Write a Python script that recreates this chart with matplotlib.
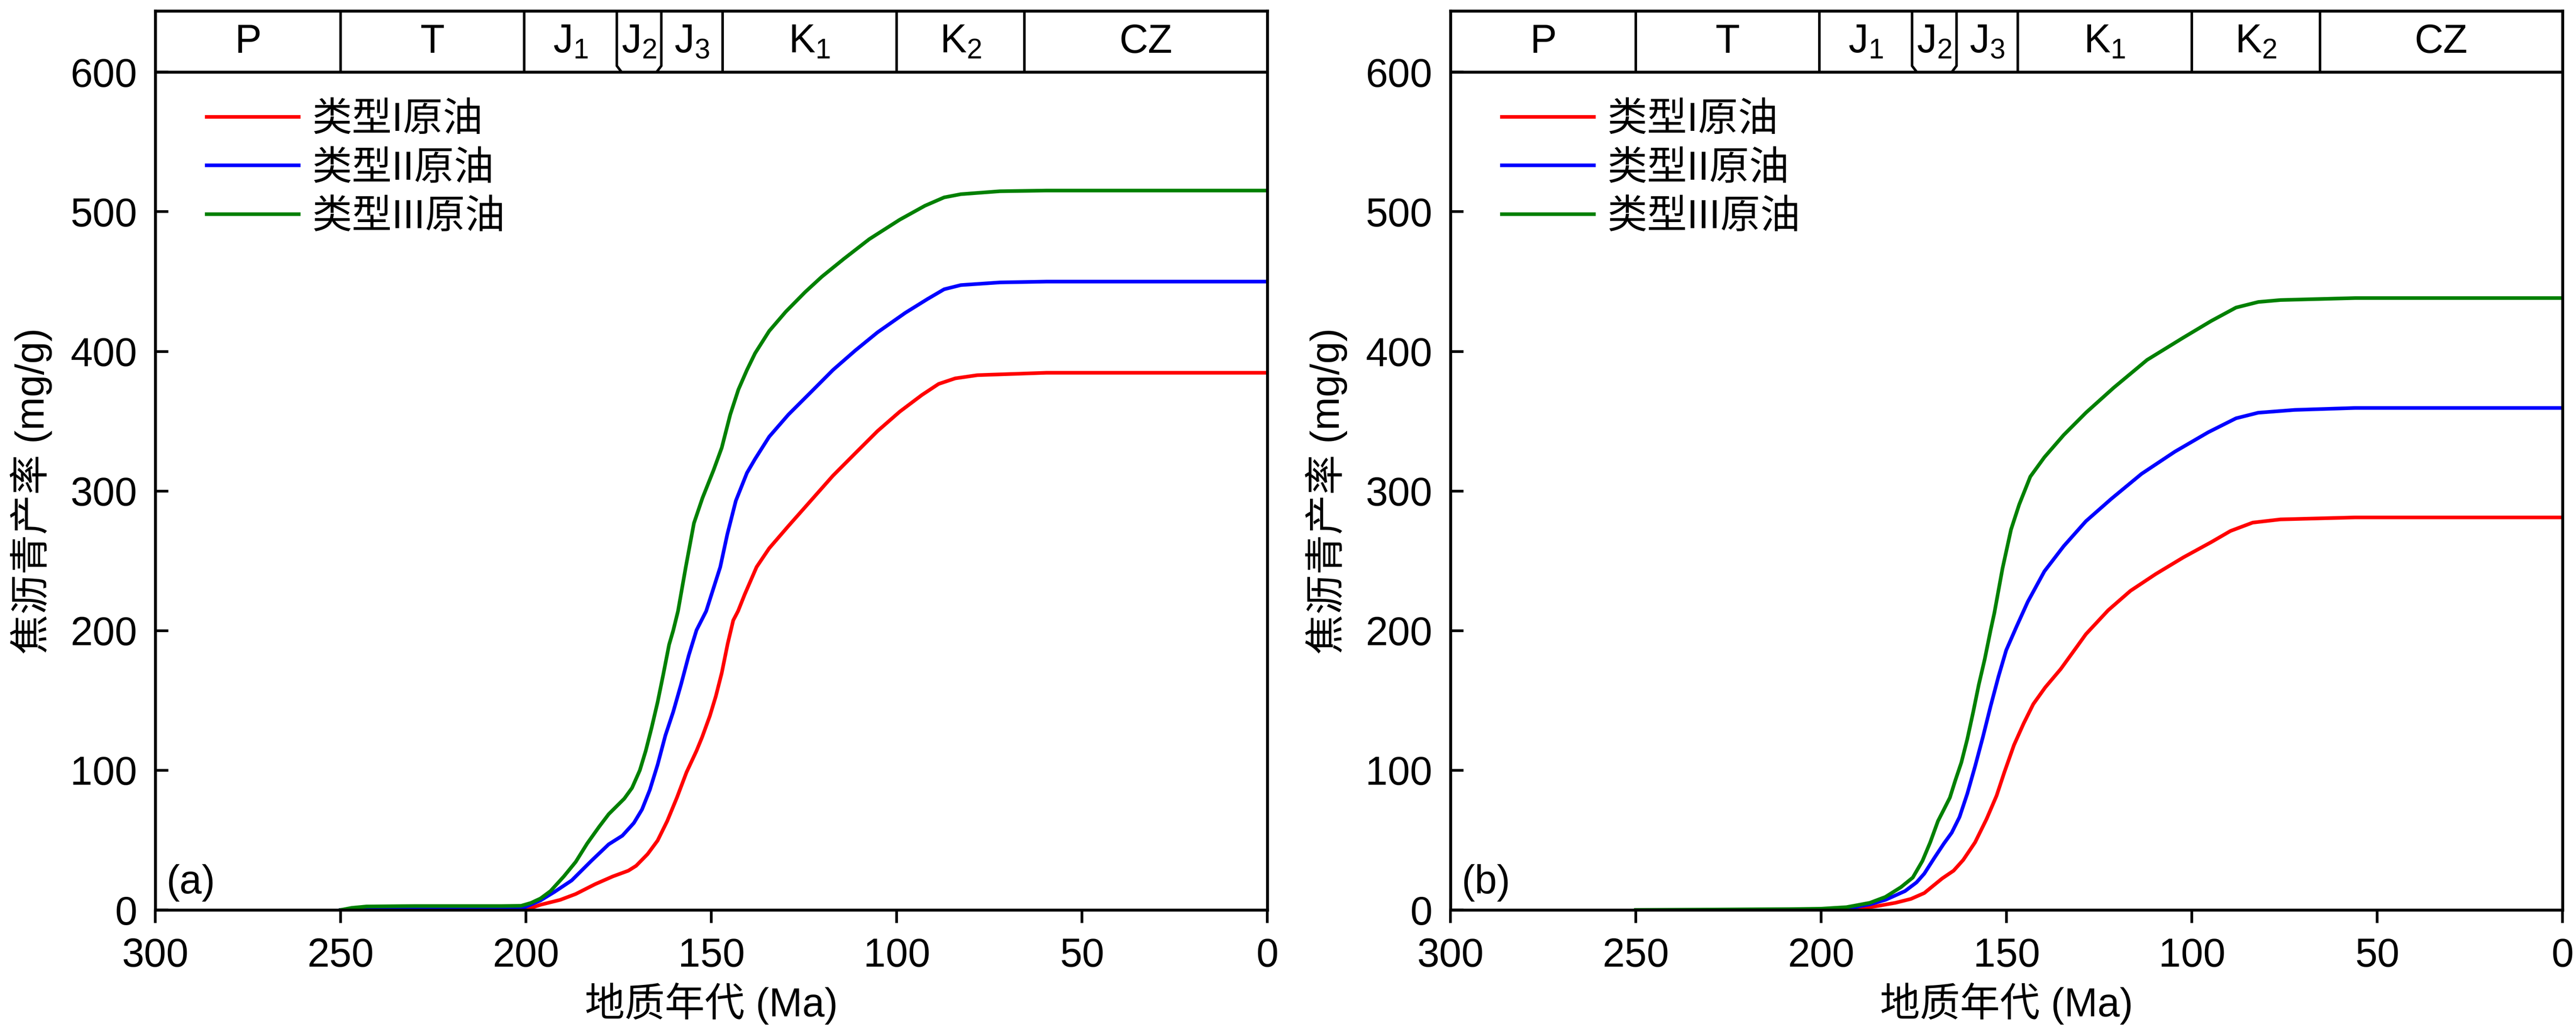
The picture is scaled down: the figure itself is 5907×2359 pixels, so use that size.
import numpy as np
import matplotlib.pyplot as plt

plt.rcParams['font.family'] = ['Liberation Sans', 'Noto Sans CJK SC']
plt.rcParams['mathtext.fontset'] = 'custom'
plt.rcParams['mathtext.rm'] = 'Liberation Sans'
plt.rcParams['font.size'] = 22

# geologic periods (Ma)
period_names = ['P', 'T', r'$\mathrm{J_1}$', r'$\mathrm{J_2}$', r'$\mathrm{J_3}$',
                r'$\mathrm{K_1}$', r'$\mathrm{K_2}$', 'CZ']
period_bounds = [300, 250, 200.5, 175.5, 163.5, 147, 100, 65.5, 0]

labels = ['类型I原油', '类型II原油', '类型III原油']
colors = ['red', 'blue', 'green']

# panel (a)
a_red_age = [250, 230, 200, 196.1, 190.8, 186.6, 181.4, 176.6, 172.4, 170.3, 167.2, 164.5,
             161.9, 159.3, 156.7, 154, 152.5, 150.4, 148.8, 147.2, 145.6, 144.1, 142.8, 141,
             137.8, 134.4, 129.2, 123.2, 117.2, 111.2, 105.2, 99.2, 93.2, 88.7, 84.2, 78.2,
             59.6, 0]
a_red = [0, 0, 0.2, 3.7, 7.2, 11.4, 18.4, 24, 28.1, 31.6, 40, 49.7,
         63.7, 80.4, 98.6, 114, 123.7, 139, 153, 169.7, 190.6, 207.4, 214, 226,
         245.6, 259, 275, 293, 311, 327, 342.9, 356.8, 368.8, 376.7, 380.7, 383,
         384.7, 384.7]
a_blue_age = [250, 230, 206, 201.3, 196.1, 192.4, 187.7, 182.4, 177.7, 174, 170.9, 168.7,
              166.6, 164.5, 162.4, 160.3, 158.2, 156.1, 154, 151.4, 147.6, 145.7, 143.4,
              140.4, 138.2, 134.4, 129.2, 123.2, 117.2, 111.2, 105.2, 97.7, 91.7, 87.2,
              82.7, 72.2, 59.6, 0]
a_blue = [0, 0.8, 0.9, 0.9, 6.8, 12.8, 21.1, 35.1, 47, 53.2, 62.3, 72,
          86, 104, 125, 141.8, 161.3, 182.3, 200.4, 214, 245.6, 269, 293,
          313, 323, 338.9, 354.8, 370.7, 386.7, 400.6, 413.6, 427.6, 437.5, 444.5,
          447.5, 449.4, 450, 450]
a_green_age = [250, 247, 243, 230, 215, 206.6, 201.3, 198.7, 196.1, 193.4, 189.8, 186.6,
               183.5, 180.3, 177.7, 173.5, 171.4, 169.3, 167.7, 166.1, 164.5, 163, 161.4,
               160.3, 159, 156.9, 154.7, 152.4, 149.4, 147.2, 144.9, 142.7, 140.4, 138.2,
               134.4, 129.9, 124.7, 120.2, 114.2, 107.4, 99.2, 92.4, 87.2, 82.7, 72.2,
               59.6, 30, 0]
a_green = [0, 1.5, 2.5, 2.8, 2.8, 2.8, 3, 5, 8.2, 13.5, 24, 34.4,
           47.6, 59.5, 68.6, 79.7, 87.4, 100, 114, 130.7, 148.8, 168.3, 190,
           200, 214, 245.6, 277, 295, 315, 331, 354.8, 372.7, 386.7, 398.7,
           414.6, 428.5, 442.5, 453.5, 466.4, 480.4, 494.3, 504.3, 510.3, 512.6, 514.7,
           515.2, 515.2, 515.2]

# panel (b)
b_red_age = [250, 200, 190.5, 185.3, 180, 175.8, 172.2, 167.4, 164.3, 161.7, 158.5, 155.4,
             152.7, 150.6, 148, 145.4, 142.8, 139.6, 135.4, 131.2, 128.6, 122.6, 116.6,
             109.8, 102.3, 94.8, 89.6, 83.6, 76.1, 56, 0]
b_red = [0, 0, 0.9, 2.6, 5.1, 7.9, 12.1, 22.5, 28.1, 35.8, 48.4, 65.1,
         81.8, 98.6, 118.1, 133.5, 147.4, 159.3, 172.5, 187.9, 197.5, 214.6, 228.5,
         240.5, 252.5, 263.4, 271.4, 277.4, 279.7, 281.1, 281.1]
b_blue_age = [250, 200, 193.2, 186.9, 182.7, 177.4, 174.3, 172.2, 169.5, 166.9, 164.8, 162.7,
              160.6, 158.5, 156.4, 154.3, 152.2, 150.1, 147.3, 144.3, 139.8, 134.6, 128.6,
              121.8, 113.6, 104.6, 95.6, 88.1, 82.1, 72.3, 56, 0]
b_blue = [0, 0, 0.9, 4, 7.2, 13.5, 19.7, 26, 37.2, 47.6, 55.3, 66.5,
          83.2, 102.8, 123.7, 146, 167, 186, 203, 220.6, 242.5, 260.5, 278.4,
          294.3, 312.3, 328.2, 342.1, 352.1, 356.1, 358.1, 359.5, 359.5]
b_green_age = [250, 208.9, 200, 193.2, 186.9, 182.7, 178.5, 175.3, 172.7, 170.6, 168.5, 166.9,
               165.3, 163.8, 162.2, 160.6, 159, 157.5, 155.9, 154.3, 153.3, 151.1, 148.8,
               146.6, 143.6, 139.8, 134.6, 128.6, 121.1, 112.1, 102.3, 94.8, 88.1, 82.1,
               76.1, 56, 0]
b_green = [0, 0.6, 0.9, 2, 5.1, 9.3, 16.3, 23.2, 35.1, 48.4, 63.7, 72,
           80.4, 93, 105.6, 122.3, 141.8, 161.3, 179.5, 200.4, 212.6, 244.5, 272.4,
           290.3, 310.3, 324.2, 340.1, 356.1, 374, 393.9, 409.9, 421.8, 431.4, 435.4,
           436.8, 438.2, 438.2]

panels = [
    ('(a)', [(a_red_age, a_red), (a_blue_age, a_blue), (a_green_age, a_green)]),
    ('(b)', [(b_red_age, b_red), (b_blue_age, b_blue), (b_green_age, b_green)]),
]

fig = plt.figure(figsize=(5907 / 300, 2359 / 300), dpi=300)
lefts = [0.0603, 0.5631]
band_lo, band_hi = 600, 644

for (tag, series), left in zip(panels, lefts):
    ax = fig.add_axes([left, 0.1157, 0.4317, 0.8739])
    for (age, val), c, lab in zip(series, colors, labels):
        ax.plot(age, val, color=c, lw=2.0, label=lab, solid_joinstyle='round')

    ax.set_xlim(300, 0)
    ax.set_ylim(0, band_hi)
    ax.set_xticks(np.arange(300, -1, -50))
    ax.set_yticks(np.arange(0, 601, 100))
    ax.tick_params(axis='x', direction='out', length=7.2, width=1.5, pad=8)
    ax.tick_params(axis='y', direction='in', length=7.2, width=1.5, pad=10)
    for s in ax.spines.values():
        s.set_linewidth(1.6)

    # stratigraphic band along the top
    ax.axhline(band_lo, color='k', lw=1.6)
    kink = {175.5: -1.3, 163.5: 1.3}
    for b in period_bounds[1:-1]:
        if b in kink:
            ax.plot([b, b, b + kink[b]], [band_hi, 604.5, band_lo], color='k', lw=1.4,
                    solid_capstyle='butt')
        else:
            ax.plot([b, b], [band_lo, band_hi], color='k', lw=1.4)
    for name, x0, x1 in zip(period_names, period_bounds[:-1], period_bounds[1:]):
        ax.text((x0 + x1) / 2, 621.5, name, ha='center', va='center', fontsize=22)

    ax.text(297, 6, tag, ha='left', va='bottom', fontsize=22)
    ax.set_xlabel('地质年代 (Ma)', fontsize=22, labelpad=4)
    ax.set_ylabel('焦沥青产率 (mg/g)', fontsize=22)
    ax.yaxis.set_label_coords(-0.0925, 300 / band_hi)

    ax.legend(loc='upper left', bbox_to_anchor=(0.0463, 0.899), frameon=False,
              borderaxespad=0, borderpad=0, handlelength=2.3, handletextpad=0.33,
              labelspacing=0.28, fontsize=22)

fig.savefig('out.png', dpi=300)
